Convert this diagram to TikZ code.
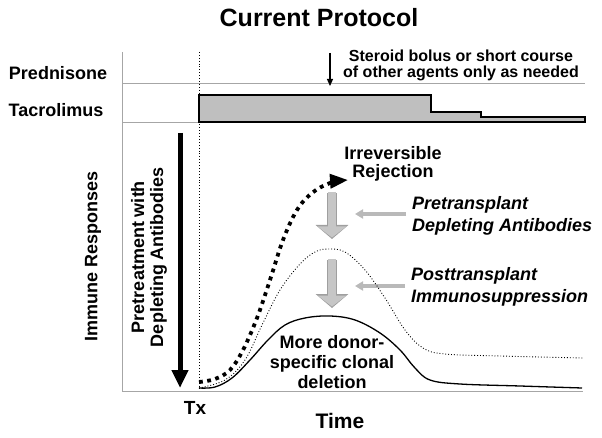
\documentclass[tikz,border=0pt]{standalone}
\usepackage{fontspec}
\setmainfont{Liberation Sans}
\usetikzlibrary{arrows.meta}
\newcommand{\lblfont}[2]{\fontsize{#1}{#2}\selectfont\bfseries}

\tikzset{
  axis/.style={gray!70, line width=0.8pt},
  lbl/.style={font={\lblfont{18}{19}}, inner sep=0pt, align=center},
  itlbl/.style={font={\lblfont{18}{22}\itshape}, inner sep=0pt, align=left, anchor=west},
  grayrim/.style={line width=10pt, draw=gray!75, -{Triangle[width=32pt,length=14pt]}},
  grayarrow/.style={line width=8pt, draw=gray!45, shorten >=1.5pt, -{Triangle[width=28pt,length=11pt]}},
  hintarrow/.style={line width=4pt, draw=gray!55, -{Triangle[width=9pt,length=8pt]}},
}

\begin{document}
\begin{tikzpicture}[x=1pt,y=-1pt]
\useasboundingbox (0,0) rectangle (602,438);
% labels
\node[lbl, font={\lblfont{25}{26}}] (title) at (319,18) {Current Protocol};
\node[lbl] (pred) at (58,73) {Prednisone};
\node[lbl] (tacro) at (56,110) {Tacrolimus};
\node[lbl, font={\lblfont{16}{16}}] (steroid) at (461,65) {Steroid bolus or short course\\of other agents only as needed};
\node[lbl, rotate=90] (immresp) at (93,256) {Immune Responses};
\node[lbl, rotate=90] (pretreat) at (149,257) {Pretreatment with\\Depleting Antibodies};
\node[lbl, font={\lblfont{18}{18}}] (irrev) at (393,164) {Irreversible\\Rejection};
\node[itlbl] (pretx) at (412,216) {Pretransplant\\Depleting Antibodies};
\node[itlbl] (posttx) at (411,287) {Posttransplant\\Immunosuppression};
\node[lbl, font={\lblfont{18}{20}}] (clonal) at (332,362) {More donor-\\specific clonal\\deletion};
\node[lbl, font={\lblfont{19}{19}}] (tx) at (195,408) {Tx};
\node[lbl, font={\lblfont{21}{21}}] (time) at (340,421) {Time};

% frame
\draw[axis] (122,52) -- (122,391) -- (583,391);
\draw[axis] (122,83) -- (585,83);
\draw[axis] (122,122) -- (585,122);
\draw[black, dotted, line width=0.9pt] (199,52) -- (199,391);

% tacrolimus dose
\draw[fill=gray!50, line width=1.8pt, line join=miter] (199,122) -- (199,95) -- (431,95) -- (431,112) -- (481,112) -- (481,117) -- (585,117) -- (585,122) -- cycle;

% arrows
\coordinate (sbtop) at (330,53);
\coordinate (sbtip) at (330,86);
\draw[line width=1.2pt, -{Triangle[width=6pt,length=7pt]}] (sbtop) -- (sbtip);

\coordinate (pttop) at (180,133);
\coordinate (pttip) at (180,388);
\draw[line width=5pt, -{Triangle[width=16pt,length=18pt]}] (pttop) -- (pttip);

\coordinate (g1top) at (332,193);
\coordinate (g1tip) at (332,239);
\coordinate (g2top) at (332,260);
\coordinate (g2tip) at (332,308);
\draw[grayrim] (g1top) -- (g1tip);
\draw[grayarrow] ([yshift=1pt]g1top) -- (g1tip);
\draw[grayrim] (g2top) -- (g2tip);
\draw[grayarrow] ([yshift=1pt]g2top) -- (g2tip);

\coordinate (h1tip) at (355,214);
\coordinate (h2tip) at (355,286);
\draw[hintarrow] (pretx.west |- h1tip) ++(-6,0) -- (h1tip);
\draw[hintarrow] (posttx.west |- h2tip) ++(-6,0) -- (h2tip);

% responses
\draw[line width=3.8pt, dash pattern=on 3.8pt off 4.5pt, -{Triangle[width=14pt,length=18pt]}]
  plot[smooth, tension=0.6] coordinates {(199,382) (215,379) (230,370) (243,350) (257,318) (270,280) (283,240) (297,210) (312,193) (330,183) (348,180)};
\draw[dotted, line width=0.9pt]
  plot[smooth, tension=0.6] coordinates {(199,388) (225,380) (245,360) (262,325) (280,290) (300,264) (315,252) (328,249) (345,252) (365,270) (385,298) (405,330) (423,348) (445,354) (500,356) (583,358)};
\draw[line width=1.3pt]
  plot[smooth, tension=0.6] coordinates {(199,388) (215,387) (232,378) (250,360) (268,340) (285,325) (305,318) (330,316) (355,320) (380,333) (400,350) (415,368) (430,380) (460,384) (520,386) (582,388)};
\end{tikzpicture}
\end{document}
